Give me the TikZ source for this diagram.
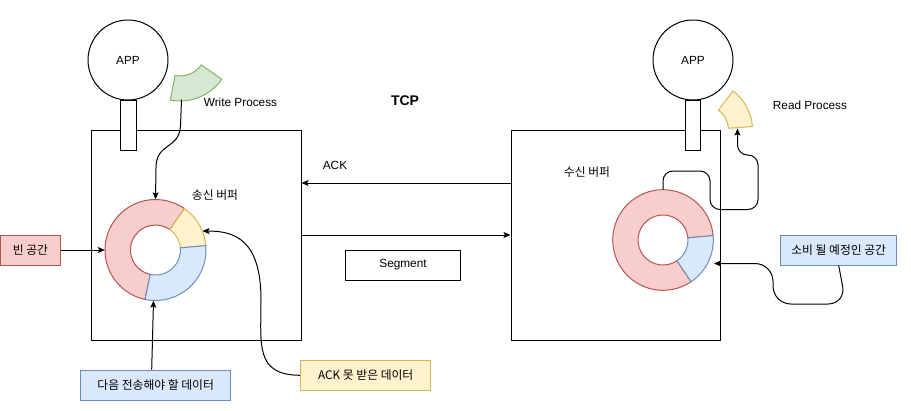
\documentclass[tikz,border=0pt]{standalone}
\usepackage{fontspec}
\setmainfont{Liberation Sans}
\newfontfamily\kr{Noto Sans CJK KR}
\usetikzlibrary{arrows.meta}
\definecolor{redF}{HTML}{F8CECC}\definecolor{redS}{HTML}{B85450}
\definecolor{yelF}{HTML}{FFF2CC}\definecolor{yelS}{HTML}{D6B656}
\definecolor{bluF}{HTML}{DAE8FC}\definecolor{bluS}{HTML}{6C8EBF}
\definecolor{grnF}{HTML}{D5E8D4}\definecolor{grnS}{HTML}{82B366}
\newcommand{\ringsec}[7]{\draw[#7] ([shift={(#5:#4)}]#1,#2) arc[start angle=#5,end angle=#6,radius=#4] -- ([shift={(#6:#3)}]#1,#2) arc[start angle=#6,end angle=#5,radius=#3] -- cycle;}
\tikzset{
  every node/.style={font=\fontsize{11.8}{14}\selectfont, inner sep=0pt},
  lw/.style={line width=1pt},
  conn/.style={lw, -{Stealth[length=7pt,width=6pt,inset=1.5pt]}},
  plainbox/.style={draw, lw, fill=white, rectangle},
  redbox/.style={draw=redS, fill=redF, lw, minimum height=30pt},
  bluebox/.style={draw=bluS, fill=bluF, lw, minimum height=30pt},
  yelbox/.style={draw=yelS, fill=yelF, lw, minimum height=30pt},
  appc/.style={draw, lw, circle, minimum size=80pt, fill=white},
  ringred/.style={draw=redS, fill=redF, lw},
  ringyel/.style={draw=yelS, fill=yelF, lw},
  ringblu/.style={draw=bluS, fill=bluF, lw},
  ringgrn/.style={draw=grnS, fill=grnF, lw},
}
\begin{document}
\begin{tikzpicture}[x=1pt,y=-1pt]
\useasboundingbox (0,0) rectangle (911,410);
% boxes
\node[plainbox, minimum width=210pt, minimum height=210pt] (lb) at (196,235) {};
\node[plainbox, minimum width=209pt, minimum height=210pt] (rb) at (615.5,235) {};
% apps and stems
\node[appc] (lapp) at (128,60) {APP};
\node[appc] (rapp) at (693,60) {APP};
\draw[lw, fill=white] (120,100) rectangle (136,150);
\draw[lw, fill=white] (685.5,100) rectangle (700.5,150);
% title
\node[font=\fontsize{14}{16}\selectfont\bfseries] (tcp) at (405,101) {TCP};
% process sectors
\ringsec{180}{50}{26}{51}{35}{101}{ringgrn}
\node (wpl) at (240.5,102) {Write Process};
\ringsec{703.5}{130}{25}{49}{-53}{-4}{ringyel}
\node (rpl) at (810,105) {Read Process};
\coordinate (wp) at (181.5,99.5);
\coordinate (rp) at (737.5,128.5);
% left donut
\ringsec{155.5}{250}{25}{50.5}{102}{305}{ringred}
\ringsec{155.5}{250}{25}{50.5}{-55}{-5}{ringyel}
\ringsec{155.5}{250}{25}{50.5}{-5}{102}{ringblu}
\node[circle, minimum size=101pt] (ld) at (155.5,250) {};
% right donut
\ringsec{663}{240}{25}{50.3}{56}{355}{ringred}
\ringsec{663}{240}{25}{50.3}{-5}{56}{ringblu}
\node[circle, minimum size=100.6pt] (rd) at (663,240) {};
\coordinate (rdin) at (714,263.5);
% labels
\node[font=\fontsize{11.8}{14}\selectfont\kr] (sb) at (215,195) {송신 버퍼};
\node[font=\fontsize{11.8}{14}\selectfont\kr] (rbuf) at (587,172.5) {수신 버퍼};
\node (ackl) at (335,165) {ACK};
\node[plainbox, minimum width=115.7pt, minimum height=30pt] (seg) at (403,265) {Segment};
% side boxes
\node[redbox, minimum width=60.5pt, font=\fontsize{11.8}{14}\selectfont\kr] (empty) at (30.5,250) {빈 공간};
\node[bluebox, minimum width=150pt, font=\fontsize{11.8}{14}\selectfont\kr] (next) at (155.7,385) {다음 전송해야 할 데이터};
\node[yelbox, minimum width=130pt, font=\fontsize{11.8}{14}\selectfont\kr] (nack) at (365.7,375.3) {ACK 못 받은 데이터};
\node[bluebox, minimum width=116pt, font=\fontsize{11.8}{14}\selectfont\kr] (cons) at (838.7,250) {소비 될 예정인 공간};
% connectors
\draw[conn] (wp) -- (180.5,126) .. controls (179,150) and (156,142) .. (156,168) -- (ld.north);
\draw[conn] (empty.east) -- (ld.west);
\draw[conn] ([xshift=-4pt]next.north) -- ([xshift=-2pt]ld.south);
\draw[conn] (nack.west) .. controls (255,375) and (261,345) .. (261,300) .. controls (261,240) and (235,231) .. (ld.22);
\draw[conn] ([yshift=52pt]rb.west) -- ([yshift=52pt]lb.east);
\draw[conn] (lb.east) -- (rb.west);
\draw[conn, rounded corners=10pt] (rd.north) -- (663,171) -- (710,171) -- (710,209.5) -- (758,209.5) -- (758,155) -- (737.5,155) -- (rp);
\draw[conn, rounded corners=18pt] (cons.south) -- (846,304) -- (773,304) -- (773,263.5) -- (rdin);
\end{tikzpicture}
\end{document}
